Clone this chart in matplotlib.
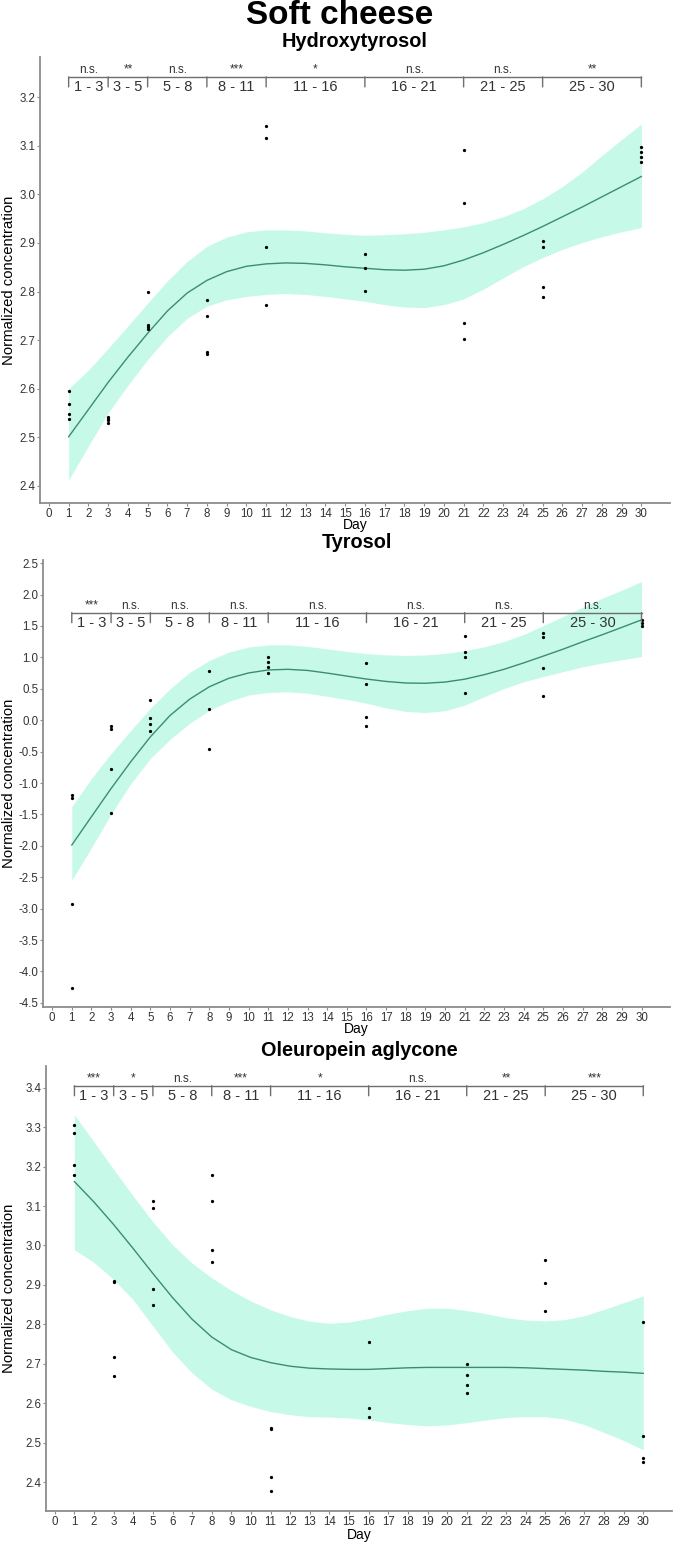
import numpy as np
import matplotlib
matplotlib.use("Agg")
import matplotlib.pyplot as plt

plt.rcParams['font.family'] = ['Liberation Sans', 'DejaVu Sans']

# ---------------- data ----------------
days_grid = list(range(1, 31))

# Hydroxytyrosol
ht_day = [1, 1, 1, 1, 3, 3, 3, 3, 5, 5, 5, 5, 8, 8, 8, 8, 11, 11, 11, 11,
          16, 16, 16, 21, 21, 21, 21, 25, 25, 25, 25, 30, 30, 30, 30]
ht_val = [2.596, 2.568, 2.548, 2.537, 2.541, 2.537, 2.535, 2.529,
          2.800, 2.731, 2.727, 2.723, 2.782, 2.749, 2.676, 2.672,
          3.140, 3.117, 2.891, 2.773, 2.878, 2.848, 2.801,
          3.092, 2.983, 2.736, 2.702, 2.904, 2.891, 2.809, 2.788,
          3.097, 3.087, 3.077, 3.066]
ht_fit = [2.501, 2.557, 2.613, 2.665, 2.714, 2.760, 2.797, 2.823, 2.841, 2.852,
          2.857, 2.859, 2.858, 2.855, 2.851, 2.848, 2.845, 2.844, 2.846, 2.853,
          2.865, 2.880, 2.897, 2.915, 2.934, 2.954, 2.974, 2.995, 3.016, 3.037]
ht_hi = [2.600, 2.638, 2.683, 2.729, 2.776, 2.822, 2.862, 2.893, 2.912, 2.923,
         2.927, 2.927, 2.925, 2.921, 2.918, 2.916, 2.917, 2.919, 2.922, 2.927,
         2.933, 2.942, 2.954, 2.970, 2.991, 3.016, 3.046, 3.080, 3.113, 3.145]
ht_lo = [2.412, 2.482, 2.550, 2.607, 2.660, 2.707, 2.745, 2.770, 2.783, 2.790,
         2.794, 2.796, 2.794, 2.790, 2.785, 2.780, 2.773, 2.768, 2.767, 2.773,
         2.785, 2.805, 2.828, 2.851, 2.870, 2.887, 2.901, 2.913, 2.923, 2.932]
ht_sig = ["n.s.", "**", "n.s.", "***", "*", "n.s.", "n.s.", "**"]

# Tyrosol
ty_day = [1, 1, 1, 1, 3, 3, 3, 3, 5, 5, 5, 5, 8, 8, 8, 11, 11, 11, 11,
          16, 16, 16, 16, 21, 21, 21, 21, 25, 25, 25, 25, 30, 30, 30]
ty_val = [-1.19, -1.24, -2.92, -4.26, -0.09, -0.14, -0.78, -1.48,
          0.323, 0.031, -0.060, -0.171, 0.790, 0.179, -0.458,
          1.002, 0.933, 0.843, 0.747, 0.907, 0.572, 0.046, -0.092,
          1.348, 1.082, 1.002, 0.429, 1.385, 1.321, 0.827, 0.386,
          1.60, 1.55, 1.50]
ty_fit = [-1.987, -1.536, -1.088, -0.662, -0.265, 0.075, 0.335, 0.532, 0.668, 0.752,
          0.800, 0.810, 0.792, 0.750, 0.702, 0.655, 0.617, 0.592, 0.588, 0.607,
          0.653, 0.725, 0.810, 0.912, 1.020, 1.130, 1.248, 1.360, 1.478, 1.597]
ty_hi = [-1.377, -0.930, -0.530, -0.165, 0.190, 0.500, 0.760, 0.950, 1.085, 1.165,
         1.199, 1.199, 1.175, 1.135, 1.095, 1.060, 1.040, 1.031, 1.038, 1.063,
         1.105, 1.168, 1.252, 1.365, 1.505, 1.650, 1.799, 1.942, 2.070, 2.208]
ty_lo = [-2.545, -2.030, -1.495, -1.010, -0.610, -0.305, -0.050, 0.158, 0.300, 0.400,
         0.440, 0.452, 0.430, 0.380, 0.330, 0.270, 0.195, 0.140, 0.122, 0.150,
         0.240, 0.375, 0.505, 0.612, 0.695, 0.772, 0.850, 0.910, 0.962, 1.013]
ty_sig = ["***", "n.s.", "n.s.", "n.s.", "n.s.", "n.s.", "n.s.", "n.s."]

# Oleuropein aglycone
ol_day = [1, 1, 1, 1, 3, 3, 3, 3, 5, 5, 5, 5, 8, 8, 8, 8, 11, 11, 11, 11,
          16, 16, 16, 21, 21, 21, 21, 25, 25, 25, 30, 30, 30, 30]
ol_val = [3.305, 3.284, 3.203, 3.179, 2.911, 2.907, 2.718, 2.669,
          3.113, 3.094, 2.890, 2.848, 3.179, 3.114, 2.989, 2.957,
          2.537, 2.534, 2.413, 2.377, 2.756, 2.588, 2.565,
          2.699, 2.672, 2.647, 2.627, 2.963, 2.906, 2.834,
          2.805, 2.516, 2.461, 2.450]
ol_fit = [3.162, 3.110, 3.053, 2.992, 2.929, 2.868, 2.813, 2.768, 2.736, 2.716,
          2.703, 2.694, 2.689, 2.687, 2.686, 2.686, 2.688, 2.690, 2.691, 2.691,
          2.691, 2.691, 2.691, 2.690, 2.688, 2.686, 2.684, 2.681, 2.679, 2.676]
ol_hi = [3.331, 3.262, 3.193, 3.125, 3.060, 3.002, 2.955, 2.918, 2.886, 2.859,
         2.837, 2.820, 2.808, 2.803, 2.806, 2.815, 2.826, 2.835, 2.841, 2.841,
         2.835, 2.827, 2.817, 2.811, 2.809, 2.812, 2.822, 2.838, 2.855, 2.872]
ol_lo = [2.989, 2.957, 2.914, 2.862, 2.796, 2.730, 2.677, 2.636, 2.609, 2.592,
         2.579, 2.571, 2.566, 2.565, 2.563, 2.558, 2.551, 2.546, 2.543, 2.545,
         2.551, 2.558, 2.564, 2.566, 2.566, 2.560, 2.546, 2.526, 2.506, 2.482]
ol_sig = ["***", "*", "n.s.", "***", "*", "n.s.", "**", "***"]

bounds = [1, 3, 5, 8, 11, 16, 21, 25, 30]

# ---------------- layout ----------------
W, H = 679, 1543
fig = plt.figure(figsize=(W / 100, H / 100), dpi=100)

def rect(left, top, right, bottom):
    return [left / W, 1 - bottom / H, (right - left) / W, (bottom - top) / H]

panels = [
    dict(title="Hydroxytyrosol", day=ht_day, val=ht_val, fit=ht_fit, hi=ht_hi, lo=ht_lo,
         sig=ht_sig, box=(40, 57, 670, 503.3), ylim=(2.364, 3.283),
         yticks=[2.4, 2.5, 2.6, 2.7, 2.8, 2.9, 3.0, 3.1, 3.2],
         bracket_y=3.242, title_y=41.7, day_y=525),
    dict(title="Tyrosol", day=ty_day, val=ty_val, fit=ty_fit, hi=ty_hi, lo=ty_lo,
         sig=ty_sig, box=(43.3, 560, 670, 1007.3), ylim=(-4.57, 2.55),
         yticks=[-4.5, -4.0, -3.5, -3.0, -2.5, -2.0, -1.5, -1.0, -0.5, 0.0, 0.5, 1.0, 1.5, 2.0, 2.5],
         bracket_y=1.712, title_y=542, day_y=1029),
    dict(title="Oleuropein aglycone", day=ol_day, val=ol_val, fit=ol_fit, hi=ol_hi, lo=ol_lo,
         sig=ol_sig, box=(46, 1066, 671.7, 1511), ylim=(2.327, 3.455),
         yticks=[2.4, 2.5, 2.6, 2.7, 2.8, 2.9, 3.0, 3.1, 3.2, 3.3, 3.4],
         bracket_y=3.405, title_y=1050, day_y=1535),
]

fill_col = "#c6f9e8"
line_col = "#3c8c74"
spine_col = "#8c8c8c"
tick_txt = "#333333"
brk_col = "#6e6e6e"

fig.text(339.5 / W, 1 - 16 / H, "Soft cheese", ha="center", va="center",
         fontsize=24, fontweight="bold", color="black")

for p in panels:
    l, t, r, b = p["box"]
    ax = fig.add_axes(rect(l, t, r, b))
    ax.fill_between(days_grid, p["lo"], p["hi"], color=fill_col, lw=0, zorder=1)
    ax.plot(days_grid, p["fit"], color=line_col, lw=1.0, zorder=2)
    ax.scatter(p["day"], p["val"], s=5.5, color="black", zorder=3, linewidths=0)

    ax.set_xlim(-0.45, 31.45)
    ax.set_ylim(*p["ylim"])
    ax.set_xticks(range(0, 31))
    ax.set_xticklabels([str(i) for i in range(0, 31)])
    ax.set_yticks(p["yticks"])
    ax.set_yticklabels(["{:.1f}".format(v) for v in p["yticks"]])
    for s in ["top", "right"]:
        ax.spines[s].set_visible(False)
    for s in ["left", "bottom"]:
        ax.spines[s].set_color(spine_col)
        ax.spines[s].set_linewidth(1.3)
    ax.tick_params(axis="both", length=2.5, width=0.8, color=spine_col,
                   labelsize=8.3, labelcolor=tick_txt, pad=1.0)

    # panel title and axis labels
    cx = (l + r) / 2
    fig.text(cx / W, 1 - p["title_y"] / H, p["title"], ha="center", va="center",
             fontsize=14.3, fontweight="bold", color="black")
    fig.text(cx / W, 1 - p["day_y"] / H, "Day", ha="center", va="center",
             fontsize=10, color="black")
    fig.text(9 / W, 1 - ((t + b) / 2) / H, "Normalized concentration", ha="center",
             va="center", rotation=90, fontsize=10.7, color="black")

    # significance brackets
    yb = p["bracket_y"]
    ax.plot([bounds[0], bounds[-1]], [yb, yb], color=brk_col, lw=1.0,
            clip_on=False, zorder=4)
    for d in bounds:
        ax.annotate("", xy=(d, yb), xytext=(0, -10), textcoords="offset pixels",
                    arrowprops=dict(arrowstyle="-", color=brk_col, lw=1.0,
                                    shrinkA=0, shrinkB=0))
    for i in range(len(bounds) - 1):
        a, c = bounds[i], bounds[i + 1]
        mid = (a + c) / 2
        ax.annotate(f"{a} - {c}", xy=(mid, yb), xytext=(0, -10),
                    textcoords="offset pixels", ha="center", va="center",
                    fontsize=10.5, color=tick_txt, annotation_clip=False)
        ax.annotate(p["sig"][i], xy=(mid, yb), xytext=(0, 4),
                    textcoords="offset pixels", ha="center", va="baseline",
                    fontsize=8.5, color=tick_txt, annotation_clip=False)

fig.savefig("out.png", dpi=100, facecolor="white")
